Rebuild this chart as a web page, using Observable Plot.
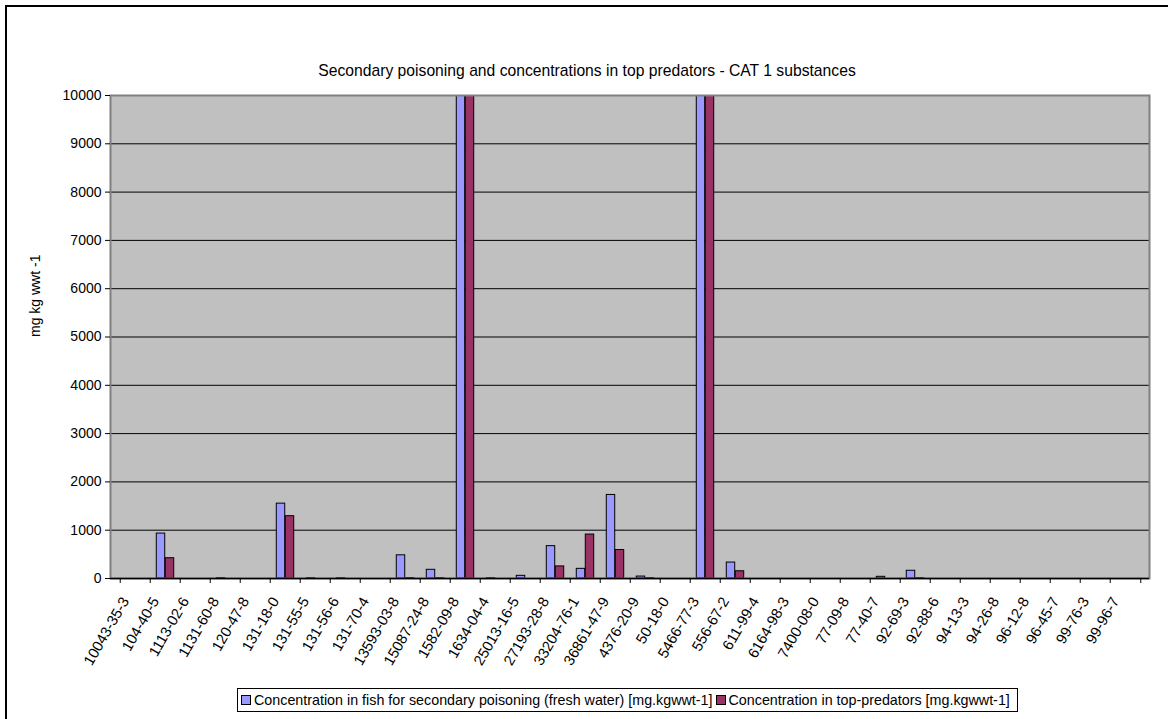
<!DOCTYPE html>
<html>
<head>
<meta charset="utf-8">
<script src="https://cdn.jsdelivr.net/npm/d3@7"></script>
<script src="https://cdn.jsdelivr.net/npm/@observablehq/plot@0.6"></script>
<style>
  html, body { margin: 0; padding: 0; background: #fff; overflow: hidden; }
  #wrap { position: relative; width: 1168px; height: 719px; overflow: hidden; font-family: "Liberation Sans", Arial, sans-serif; }
  #outer { position: absolute; left: 5px; top: 5px; width: 1300px; height: 900px; border-top: 2px solid #000; border-left: 2px solid #000; }
  #title { position: absolute; left: 0; width: 1174px; top: 62px; text-align: center; font-size: 15.7px; color: #000; }
  #chart { position: absolute; left: 0; top: 0; }
  #legend { position: absolute; left: 237px; top: 688px; height: 22px; border: 1px solid #000; background: #fff; display: flex; align-items: center; padding: 0 4px 0 3px; font-size: 14.3px; white-space: nowrap; }
  .sw { display: inline-block; width: 8px; height: 8px; border: 1px solid #000; margin-right: 3px; }
  .item { display: flex; align-items: center; margin-right: 3px; }
</style>
</head>
<body>
<div id="wrap">
  <div id="outer"></div>
  <div id="title">Secondary poisoning and concentrations in top predators - CAT 1 substances</div>
  <div id="chart"></div>
  <div id="legend"></div>
</div>
<script>
const categories = ["10043-35-3","104-40-5","1113-02-6","1131-60-8","120-47-8","131-18-0","131-55-5","131-56-6","131-70-4","13593-03-8","15087-24-8","1582-09-8","1634-04-4","25013-16-5","27193-28-8","33204-76-1","36861-47-9","4376-20-9","50-18-0","5466-77-3","556-67-2","611-99-4","6164-98-3","7400-08-0","77-09-8","77-40-7","92-69-3","92-88-6","94-13-3","94-26-8","96-12-8","96-45-7","99-76-3","99-96-7"];
const fishValues = [0,930,0,10,0,1550,8,8,0,480,180,15000,8,55,670,200,1730,40,0,15000,330,0,0,0,0,35,160,0,0,0,0,0,0,0];
const predatorValues = [0,420,0,0,0,1290,0,0,0,10,10,15000,0,0,250,910,590,8,0,15000,150,0,0,0,0,0,8,0,0,0,0,0,0,0];
const seriesNames = ["Concentration in fish for secondary poisoning (fresh water) [mg.kgwwt-1]", "Concentration in top-predators [mg.kgwwt-1]"];
const seriesColors = ["#9999ff", "#993366"];
const yTicks = [0,1000,2000,3000,4000,5000,6000,7000,8000,9000,10000];
const yLabel = "mg kg wwt -1";

const W = 1168, H = 719;
const mL = 110, mR = 19, mT = 95, mB = 141;
const bw = (W - mL - mR) / categories.length;
const barW = 9;

const fishData = categories.map((c, i) => ({cat: c, v: fishValues[i]})).filter(d => d.v > 0);
const predData = categories.map((c, i) => ({cat: c, v: predatorValues[i]})).filter(d => d.v > 0);

const chart = Plot.plot({
  width: W, height: H,
  marginLeft: mL, marginRight: mR, marginTop: mT, marginBottom: mB,
  style: {fontFamily: "'Liberation Sans', Arial, sans-serif", background: "transparent", color: "#000"},
  x: {domain: categories, padding: 0},
  y: {domain: [0, 10000]},
  marks: [
    Plot.frame({fill: "#c0c0c0", stroke: null}),
    Plot.gridY(yTicks, {stroke: "#000", strokeOpacity: 1, strokeWidth: 1}),
    Plot.barY(fishData, {x: "cat", y: "v", fill: seriesColors[0], stroke: "#000", strokeWidth: 1,
      insetLeft: bw / 2 - barW, insetRight: bw / 2, clip: true}),
    Plot.barY(predData, {x: "cat", y: "v", fill: seriesColors[1], stroke: "#000", strokeWidth: 1,
      insetLeft: bw / 2, insetRight: bw / 2 - barW, clip: true}),
    Plot.frame({stroke: "#808080", strokeWidth: 2, fill: null}),
    Plot.ruleY([0], {stroke: "#000", strokeWidth: 1.5}),
    Plot.axisY(yTicks, {tickSize: 5, tickPadding: 4, fontSize: 14, label: null, tickFormat: d => String(d)}),
    Plot.axisX({tickSize: 5, tickFormat: () => "", label: null, dx: -bw / 2}),
    Plot.axisX([categories[categories.length - 1]], {tickSize: 5, tickFormat: () => "", label: null, dx: bw / 2}),
    Plot.axisX({tickSize: 0, tickPadding: 12, tickRotate: -60, fontSize: 14.8, label: null, dx: -10, dy: 8}),
    Plot.text([yLabel], {frameAnchor: "left", rotate: -90, dx: -75, fontSize: 14, fill: "#000"})
  ]
});
document.getElementById("chart").appendChild(chart);

const legend = document.getElementById("legend");
seriesNames.forEach((name, i) => {
  const item = document.createElement("span");
  item.className = "item";
  const sw = document.createElement("span");
  sw.className = "sw";
  sw.style.background = seriesColors[i];
  item.appendChild(sw);
  item.appendChild(document.createTextNode(name));
  legend.appendChild(item);
});
</script>
</body>
</html>
